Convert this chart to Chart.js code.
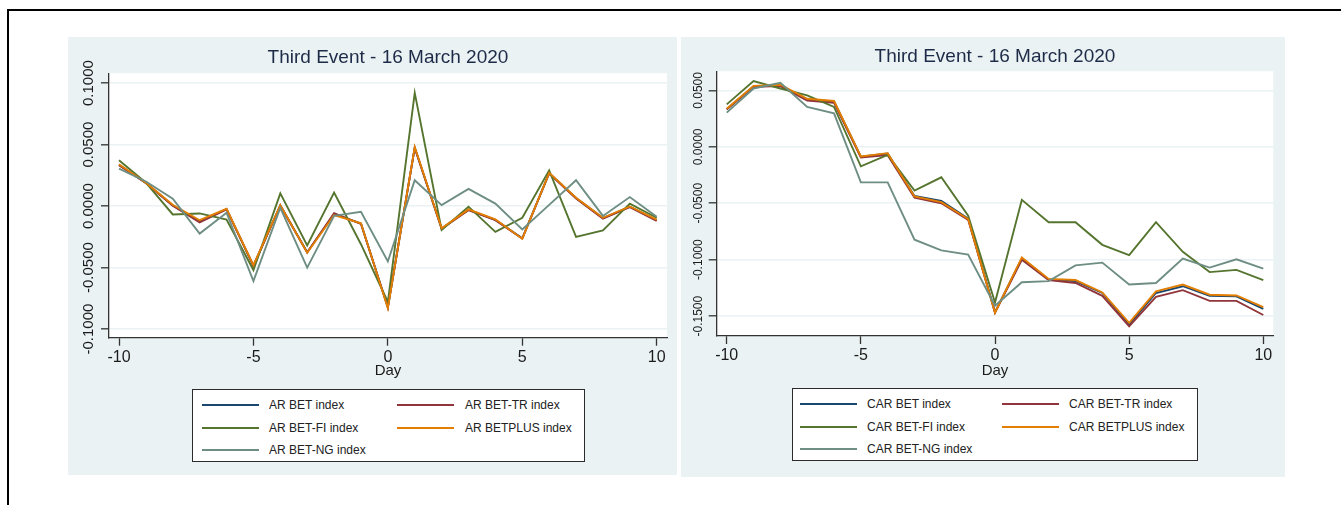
<!DOCTYPE html>
<html>
<head>
<meta charset="utf-8">
<script src="https://cdn.jsdelivr.net/npm/chart.js@4.4.1/dist/chart.umd.min.js"></script>
<style>
  html, body { margin: 0; padding: 0; background: #fff; width: 1341px; height: 505px; overflow: hidden;
    font-family: "Liberation Sans", Arial, sans-serif; }
  .frame-top { position: absolute; left: 7px; top: 9px; width: 1334px; height: 2px; background: #000; }
  .frame-left { position: absolute; left: 7px; top: 9px; width: 2px; height: 496px; background: #000; }
  .panel { position: absolute; background: #eaf2f3; }
  .panel canvas { position: absolute; left: 0; top: 0; }
  .legend { position: absolute; border: 1.5px solid #2b2b2b; background: #fff; box-sizing: border-box; }
  .legend .key { position: absolute; height: 2px; }
  .legend .txt { position: absolute; color: #222; white-space: nowrap; line-height: 1; }
</style>
</head>
<body>
<div class="frame-top"></div>
<div class="frame-left"></div>

<div class="panel" id="panelAR" style="left:68px;top:37px;width:609px;height:438px;">
  <canvas id="chartAR" width="609" height="438"></canvas>
</div>
<div class="panel" id="panelCAR" style="left:681px;top:37px;width:604px;height:440px;">
  <canvas id="chartCAR" width="604" height="440"></canvas>
</div>

<script>
// Event window (days relative to 16 March 2020)
const days = [-10, -9, -8, -7, -6, -5, -4, -3, -2, -1, 0, 1, 2, 3, 4, 5, 6, 7, 8, 9, 10];

// Abnormal returns
const arBet     = [0.0335, 0.0188, 0.0005, -0.0125, -0.0025, -0.0485, 0.0005, -0.0375, -0.0065, -0.0142, -0.0825, 0.0475, -0.0182, -0.0030, -0.0112, -0.0262, 0.0268, 0.0065, -0.0098, -0.0005, -0.0115];
const arBetTr   = [0.0333, 0.0187, 0.0003, -0.0132, -0.0027, -0.0487, 0.0003, -0.0378, -0.0057, -0.0145, -0.0822, 0.0473, -0.0185, -0.0033, -0.0115, -0.0265, 0.0265, 0.0062, -0.0102, -0.0008, -0.0120];
const arBetFi   = [0.0373, 0.0190, -0.0068, -0.0060, -0.0110, -0.0520, 0.0103, -0.0320, 0.0110, -0.0310, -0.0780, 0.0920, -0.0195, -0.0005, -0.0210, -0.0095, 0.0290, -0.0250, -0.0197, 0.0020, -0.0095];
const arBetplus = [0.0340, 0.0190, 0.0010, -0.0115, -0.0022, -0.0480, 0.0008, -0.0380, -0.0073, -0.0140, -0.0830, 0.0480, -0.0180, -0.0027, -0.0108, -0.0265, 0.0270, 0.0068, -0.0095, -0.0003, -0.0110];
const arBetNg   = [0.0305, 0.0200, 0.0060, -0.0224, -0.0054, -0.0610, -0.0014, -0.0500, -0.0080, -0.0046, -0.0450, 0.0210, 0.0008, 0.0140, 0.0020, -0.0190, 0.0010, 0.0210, -0.0080, 0.0073, -0.0086];

// Cumulative abnormal returns
const carBet     = [0.0332, 0.0535, 0.0545, 0.0420, 0.0402, -0.0088, -0.0060, -0.0435, -0.0480, -0.0635, -0.1465, -0.0990, -0.1175, -0.1190, -0.1295, -0.1575, -0.1295, -0.1235, -0.1320, -0.1325, -0.1435];
const carBetTr   = [0.0333, 0.0532, 0.0538, 0.0410, 0.0390, -0.0094, -0.0074, -0.0450, -0.0500, -0.0647, -0.1470, -0.1000, -0.1180, -0.1206, -0.1320, -0.1590, -0.1330, -0.1270, -0.1365, -0.1365, -0.1490];
const carBetFi   = [0.0376, 0.0582, 0.0517, 0.0456, 0.0353, -0.0173, -0.0071, -0.0388, -0.0270, -0.0610, -0.1380, -0.0470, -0.0668, -0.0668, -0.0868, -0.0960, -0.0668, -0.0930, -0.1110, -0.1090, -0.1180];
const carBetplus = [0.0338, 0.0540, 0.0550, 0.0426, 0.0406, -0.0085, -0.0056, -0.0440, -0.0490, -0.0640, -0.1470, -0.0980, -0.1170, -0.1180, -0.1290, -0.1560, -0.1280, -0.1220, -0.1310, -0.1317, -0.1420];
const carBetNg   = [0.0303, 0.0517, 0.0567, 0.0353, 0.0297, -0.0315, -0.0315, -0.0823, -0.0917, -0.0955, -0.1408, -0.1200, -0.1190, -0.1050, -0.1026, -0.1220, -0.1206, -0.0990, -0.1070, -0.0997, -0.1079];

// Axis ticks
const xTicks = [-10, -5, 0, 5, 10];
const xTickLabels = ['-10', '-5', '0', '5', '10'];
const arYTicks = [-0.1, -0.05, 0, 0.05, 0.1];
const arYTickLabels = ['-0.1000', '-0.0500', '0.0000', '0.0500', '0.1000'];
const carYTicks = [-0.15, -0.1, -0.05, 0, 0.05];
const carYTickLabels = ['-0.1500', '-0.1000', '-0.0500', '0.0000', '0.0500'];

const indexNames = ['BET index', 'BET-TR index', 'BET-FI index', 'BETPLUS index', 'BET-NG index'];
const chartTitle = 'Third Event - 16 March 2020';
const xTitle = 'Day';

// Stata s2color line colours: navy, maroon, forest green, dark orange, teal
const seriesColors = ['#1a476f', '#90353b', '#55752f', '#e37e00', '#6e8e84'];
const FONT = '"Liberation Sans", Arial, sans-serif';
const TEXT = '#1b1b1b';

// White plot region behind the lines
const plotRegion = {
  id: 'plotRegion',
  beforeDraw(chart) {
    const a = chart.chartArea, ctx = chart.ctx;
    ctx.save();
    ctx.fillStyle = '#ffffff';
    ctx.fillRect(a.left, a.top, a.right - a.left, a.bottom - a.top);
    ctx.restore();
  }
};

// Vertical (rotated) y tick labels
const rotatedYLabels = {
  id: 'rotatedYLabels',
  afterDraw(chart, args, opts) {
    const s = chart.scales.y, ctx = chart.ctx;
    ctx.save();
    ctx.font = opts.size + 'px ' + FONT;
    ctx.fillStyle = TEXT;
    ctx.textAlign = 'center';
    ctx.textBaseline = 'middle';
    s.ticks.forEach((t, i) => {
      const y = s.getPixelForValue(t.value);
      ctx.save();
      ctx.translate(s.right - opts.offset, y);
      ctx.rotate(-Math.PI / 2);
      ctx.fillText(opts.labels[i], 0, 0);
      ctx.restore();
    });
    ctx.restore();
  }
};

function buildChart(canvasId, cfg) {
  const n = cfg.series.length;
  const datasets = cfg.series.map((vals, i) => ({
    label: cfg.prefix + ' ' + indexNames[i],
    data: days.map((d, j) => ({ x: d, y: vals[j] })),
    borderColor: seriesColors[i],
    backgroundColor: seriesColors[i],
    borderWidth: 1.9,
    pointRadius: 0,
    tension: 0,
    fill: false,
    // later series are painted over earlier ones
    order: n - 1 - i
  }));
  return new Chart(document.getElementById(canvasId), {
    type: 'line',
    data: { datasets },
    options: {
      responsive: false,
      animation: false,
      devicePixelRatio: 1,
      layout: { padding: { left: 0, right: cfg.padRight, top: 0, bottom: 0 } },
      plugins: {
        legend: { display: false },
        tooltip: { enabled: false },
        title: {
          display: true, text: chartTitle, fullSize: false, color: '#1d2b48',
          font: { family: FONT, size: 19, weight: 'normal', lineHeight: 1.2 },
          padding: cfg.titlePad
        },
        rotatedYLabels: { labels: cfg.yLabels, size: cfg.ySize, offset: cfg.yOffset }
      },
      scales: {
        x: {
          type: 'linear', min: cfg.xMin, max: cfg.xMax,
          afterBuildTicks: s => { s.ticks = xTicks.map(v => ({ value: v })); },
          afterFit: s => { s.height = cfg.xHeight; s.paddingLeft = 0; s.paddingRight = 0; },
          ticks: {
            autoSkip: false, maxRotation: 0, minRotation: 0, padding: 2, color: TEXT,
            font: { family: FONT, size: 16 },
            callback: (v, i) => xTickLabels[i]
          },
          grid: { drawOnChartArea: false, drawTicks: true, tickLength: 8, tickColor: '#333', tickWidth: 1.3 },
          border: { display: true, color: '#333', width: 1.3 },
          title: {
            display: true, text: xTitle, color: TEXT,
            font: { family: FONT, size: 15, lineHeight: 1.2 },
            padding: { top: 0, bottom: cfg.dayPad }
          }
        },
        y: {
          type: 'linear', min: cfg.yMin, max: cfg.yMax,
          afterBuildTicks: s => { s.ticks = cfg.yTicks.map(v => ({ value: v })); },
          afterFit: s => { s.width = cfg.yWidth; s.paddingTop = 0; s.paddingBottom = 0; },
          ticks: { display: false },
          grid: { color: '#eaf2f3', lineWidth: 1.6, drawTicks: true, tickLength: 8, tickColor: '#333', tickWidth: 1.3 },
          border: { display: true, color: '#333', width: 1.3 }
        }
      }
    },
    plugins: [plotRegion, rotatedYLabels]
  });
}

function buildLegend(cfg) {
  const box = document.createElement('div');
  box.className = 'legend';
  Object.assign(box.style, { left: cfg.left + 'px', top: cfg.top + 'px', width: cfg.width + 'px', height: cfg.height + 'px' });
  indexNames.forEach((name, k) => {
    const col = k % 2, row = Math.floor(k / 2);
    const cy = cfg.rows[row];
    const key = document.createElement('div');
    key.className = 'key';
    Object.assign(key.style, { left: cfg.keyX[col] + 'px', top: (cy - 1) + 'px', width: cfg.keyW + 'px', background: seriesColors[k] });
    const txt = document.createElement('div');
    txt.className = 'txt';
    txt.textContent = cfg.prefix + ' ' + name;
    Object.assign(txt.style, { left: cfg.textX[col] + 'px', top: (cy - cfg.fontSize * 0.5) + 'px', fontSize: cfg.fontSize + 'px' });
    box.appendChild(key);
    box.appendChild(txt);
  });
  document.body.appendChild(box);
}

buildChart('chartAR', {
  prefix: 'AR',
  series: [arBet, arBetTr, arBetFi, arBetplus, arBetNg],
  yTicks: arYTicks, yLabels: arYTickLabels, ySize: 15, yOffset: 20,
  yMin: -0.107, yMax: 0.108, xMin: -10.372, xMax: 10.383,
  yWidth: 41, xHeight: 137.3, padRight: 10,
  titlePad: { top: 9.7, bottom: 3.7 }, dayPad: 95
});
buildChart('chartCAR', {
  prefix: 'CAR',
  series: [carBet, carBetTr, carBetFi, carBetplus, carBetNg],
  yTicks: carYTicks, yLabels: carYTickLabels, ySize: 12, yOffset: 17.7,
  yMin: -0.1676, yMax: 0.067, xMin: -10.373, xMax: 10.373,
  yWidth: 35.7, xHeight: 141, padRight: 11.7,
  titlePad: { top: 7.9, bottom: 3.5 }, dayPad: 97
});

buildLegend({ prefix: 'AR', left: 192, top: 389, width: 393, height: 73, rows: [15, 37.7, 60],
  keyX: [9, 204], textX: [76, 272], keyW: 57, fontSize: 12 });
buildLegend({ prefix: 'CAR', left: 792, top: 388, width: 406, height: 73, rows: [15.3, 37.7, 59.7],
  keyX: [7, 209], textX: [74, 276], keyW: 57, fontSize: 12 });
</script>
</body>
</html>
